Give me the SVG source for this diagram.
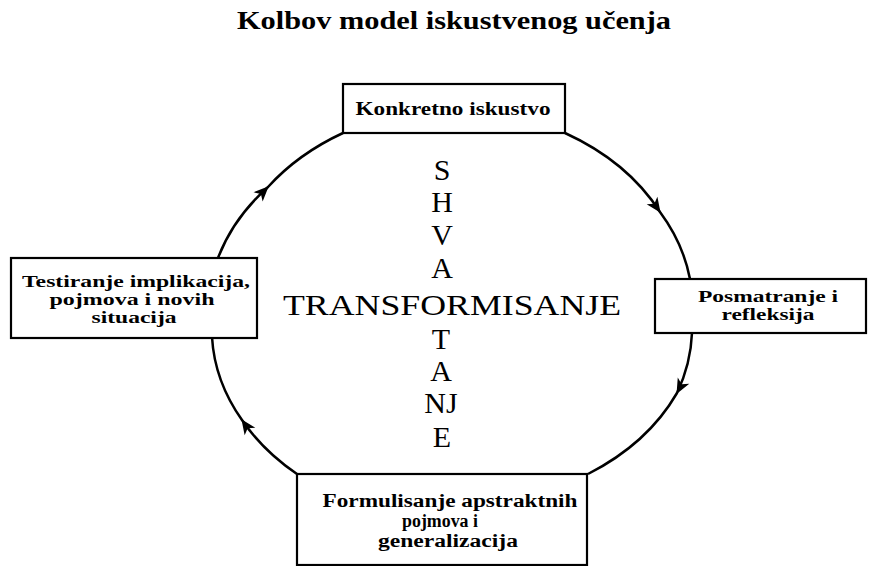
<svg xmlns="http://www.w3.org/2000/svg" width="869" height="566" viewBox="0 0 869 566">
<defs>
<style>
.box{fill:#fff;stroke:#000;stroke-width:2.2}
.lbl{font-family:"Liberation Serif","Times New Roman",serif;font-weight:bold;font-size:18px;fill:#000;text-anchor:middle}
.sm{font-size:16px}
.big{font-family:"Liberation Serif","Times New Roman",serif;font-size:30px;fill:#000;text-anchor:middle}
.arc{fill:none;stroke:#000;stroke-width:2.5;marker-mid:url(#ah)}
</style>
<marker id="ah" viewBox="-16 -8 18 16" refX="0" refY="0" markerWidth="18" markerHeight="16" markerUnits="userSpaceOnUse" orient="auto">
<path d="M1,0 L-14,-6.5 L-10,0 L-14,6.5 Z" fill="#000"/>
</marker>
</defs>
<rect width="869" height="566" fill="#fff"/>
<text x="454" y="29" font-family="'Liberation Serif','Times New Roman',serif" font-weight="bold" font-size="26" text-anchor="middle" textLength="434" lengthAdjust="spacingAndGlyphs">Kolbov model iskustvenog učenja</text>
<g id="connectors">
<path class="arc" d="M218,258 A245,190 0 0 1 268,187 A245,190 0 0 1 343,133"/>
<path class="arc" d="M565,133 A245,190 0 0 1 660,212 A245,190 0 0 1 690,279"/>
<path class="arc" d="M692,333 A245,190 0 0 1 677,393 A245,190 0 0 1 588,474"/>
<path class="arc" d="M297,474 A245,190 0 0 1 242,420 A245,190 0 0 1 212,337"/>
</g>
<g id="konkretno">
<rect class="box" x="343" y="84" width="222" height="49"/>
<text class="lbl" x="453" y="115" textLength="195" lengthAdjust="spacingAndGlyphs">Konkretno iskustvo</text>
</g>
<g id="posmatranje">
<rect class="box" x="655" y="279" width="211" height="54"/>
<text class="lbl sm" x="768" y="302" textLength="140" lengthAdjust="spacingAndGlyphs">Posmatranje i</text>
<text class="lbl sm" x="768" y="320" textLength="93" lengthAdjust="spacingAndGlyphs">refleksija</text>
</g>
<g id="formulisanje">
<rect class="box" x="297" y="474" width="290" height="91"/>
<text class="lbl" x="450" y="507" textLength="255" lengthAdjust="spacingAndGlyphs">Formulisanje apstraktnih</text>
<text class="lbl" x="440" y="527" font-size="17" textLength="76" lengthAdjust="spacingAndGlyphs">pojmova i</text>
<text class="lbl" x="448" y="547" textLength="140" lengthAdjust="spacingAndGlyphs">generalizacija</text>
</g>
<g id="testiranje">
<rect class="box" x="11" y="258" width="246" height="80"/>
<text class="lbl sm" x="136" y="287" textLength="228" lengthAdjust="spacingAndGlyphs">Testiranje implikacija,</text>
<text class="lbl sm" x="132" y="305" textLength="165" lengthAdjust="spacingAndGlyphs">pojmova i novih</text>
<text class="lbl sm" x="134" y="323" textLength="85" lengthAdjust="spacingAndGlyphs">situacija</text>
</g>
<g id="centar">
<text class="big" x="442" y="180">S</text>
<text class="big" x="442" y="212">H</text>
<text class="big" x="442" y="245">V</text>
<text class="big" x="442" y="278">A</text>
<text class="big" x="452" y="315" font-size="34" textLength="338" lengthAdjust="spacingAndGlyphs">TRANSFORMISANJE</text>
<text class="big" x="441" y="349">T</text>
<text class="big" x="441" y="381">A</text>
<text class="big" x="441" y="413">NJ</text>
<text class="big" x="442" y="447">E</text>
</g>
</svg>
